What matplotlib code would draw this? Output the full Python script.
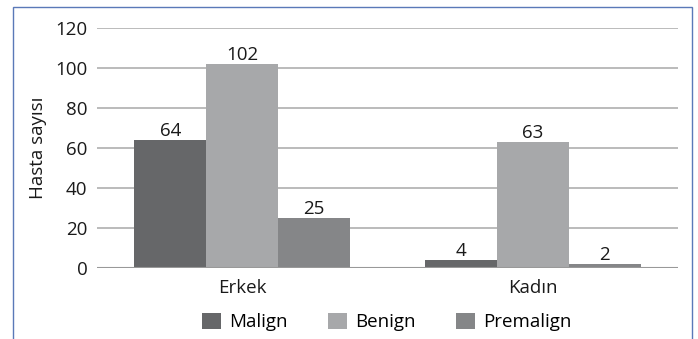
import numpy as np
import matplotlib.pyplot as plt
from matplotlib.patches import Rectangle

plt.rcParams['font.family'] = ['Open Sans', 'DejaVu Sans']

groups = ['Erkek', 'Kadın']
series = ['Malign', 'Benign', 'Premalign']
malign = [64, 4]
benign = [102, 63]
premalign = [25, 2]
colors = ['#666769', '#a7a8aa', '#858688']

W, H = 698, 339
fig = plt.figure(figsize=(W / 100, H / 100), dpi=100)
ax = fig.add_axes([97 / W, 1 - 268 / H, (678 - 97) / W, (268 - 28) / H])

fs = 13.5
x = np.arange(len(groups))
bw = 0.248
for i, (vals, name) in enumerate(zip([malign, benign, premalign], series)):
    pos = x + (i - 1) * bw
    bars = ax.bar(pos, vals, bw, color=colors[i], label=name, zorder=3)
    for b, v in zip(bars, vals):
        ax.text(b.get_x() + b.get_width() / 2, v, str(v),
                ha='center', va='bottom', fontsize=fs, color='#1a1a1a')

ax.set_xlim(-0.5, 1.5)
ax.set_ylim(0, 120)
ax.set_yticks(range(0, 121, 20))
ax.set_xticks(x)
ax.set_xticklabels(groups)
ax.tick_params(axis='both', length=0, labelsize=fs, colors='#1a1a1a')
ax.tick_params(axis='x', pad=8)
ax.tick_params(axis='y', pad=7)
ax.grid(axis='y', color='#b5b5b5', linewidth=1.3, zorder=0)
for s in ax.spines.values():
    s.set_visible(False)
ax.axhline(0, color='#999999', linewidth=1.5, zorder=4)
ax.set_ylabel('Hasta sayısı', fontsize=fs, color='#1a1a1a', labelpad=6)

fig.legend(loc='center', bbox_to_anchor=(387 / W, 1 - 322 / H), ncol=3,
           frameon=False, fontsize=fs, handlelength=1.0, handleheight=1.0,
           columnspacing=2.15, handletextpad=0.45)

fig.patches.append(Rectangle((13 / W, -0.1), (692 - 13) / W, 1.1 - 7 / H,
                             transform=fig.transFigure, fill=False,
                             edgecolor='#5a79b8', linewidth=1.0))

fig.savefig('out.png', dpi=100)
